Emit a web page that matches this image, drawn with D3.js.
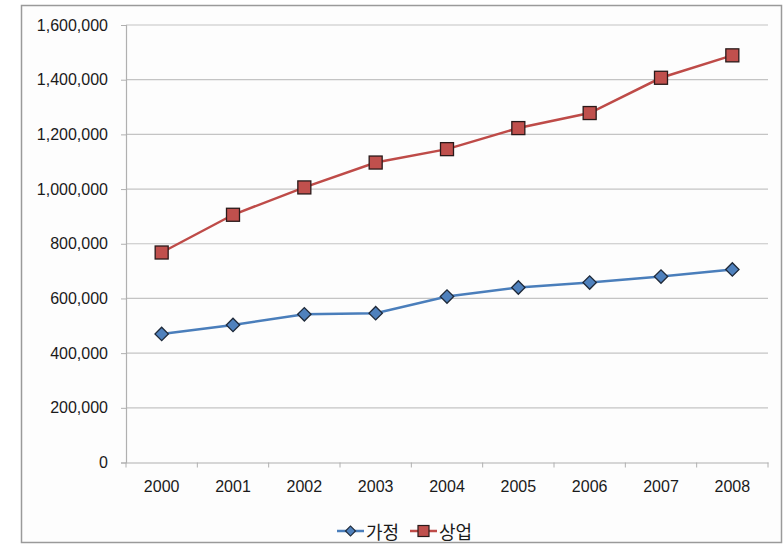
<!DOCTYPE html>
<html>
<head>
<meta charset="utf-8">
<script src="https://cdn.jsdelivr.net/npm/d3@7/dist/d3.min.js"></script>
<style>
  html, body { margin: 0; padding: 0; background: #ffffff; }
  svg { display: block; }
  text { font-family: "Liberation Sans", Arial, Helvetica, sans-serif; fill: #1a1a1a; }
  .legend text { font-family: "Noto Sans CJK KR", "Noto Sans", sans-serif; }
</style>
</head>
<body>
<svg id="chart" width="783" height="547"></svg>
<script>
// Yearly data
const years = ["2000", "2001", "2002", "2003", "2004", "2005", "2006", "2007", "2008"];
const household = [470000, 503000, 542000, 546000, 607000, 640000, 658000, 680000, 706000];
const commercial = [768000, 906000, 1006000, 1097000, 1146000, 1223000, 1278000, 1407000, 1489000];
const seriesNames = ["가정", "상업"];
const yTicks = [0, 200000, 400000, 600000, 800000, 1000000, 1200000, 1400000, 1600000];

const svg = d3.select("#chart");
const plot = { left: 126, right: 768, top: 25, bottom: 462.5 };

// Outer frame
svg.append("rect")
  .attr("x", 21.5).attr("y", 5.5)
  .attr("width", 760).attr("height", 537)
  .attr("fill", "#fdfdfd")
  .attr("stroke", "#9a9a9a").attr("stroke-width", 1.5);

const x = d3.scaleBand().domain(years).range([plot.left, plot.right]).padding(0);
const y = d3.scaleLinear().domain([0, 1600000]).range([plot.bottom, plot.top]);

// Horizontal gridlines
svg.append("g")
  .selectAll("line")
  .data(yTicks.filter(d => d > 0))
  .join("line")
  .attr("x1", plot.left).attr("x2", plot.right)
  .attr("y1", d => y(d)).attr("y2", d => y(d))
  .attr("stroke", "#c4c4c4").attr("stroke-width", 1.2);

// Y axis
const yAxis = svg.append("g")
  .attr("transform", `translate(${plot.left},0)`)
  .call(d3.axisLeft(y).tickValues(yTicks).tickFormat(d3.format(",")).tickSize(5).tickPadding(13));
yAxis.select(".domain").attr("stroke", "#b0b0b0").attr("stroke-width", 1.2);
yAxis.selectAll(".tick line").attr("stroke", "#b0b0b0");
yAxis.selectAll(".tick text")
  .attr("font-size", 16)
  .style("font-family", "'Liberation Sans', Arial, sans-serif")
  .attr("fill", "#1a1a1a");

// X axis with ticks at category boundaries
const xAxis = svg.append("g")
  .attr("transform", `translate(0,${plot.bottom})`)
  .call(d3.axisBottom(x).tickSize(0).tickPadding(18));
xAxis.select(".domain").attr("stroke", "#b0b0b0").attr("stroke-width", 1.2);
xAxis.selectAll(".tick text")
  .attr("font-size", 16)
  .style("font-family", "'Liberation Sans', Arial, sans-serif")
  .attr("fill", "#1a1a1a");
xAxis.selectAll("line.bound")
  .data(years.concat(["end"]))
  .join("line")
  .attr("class", "bound")
  .attr("x1", (d, i) => plot.left + i * x.step())
  .attr("x2", (d, i) => plot.left + i * x.step())
  .attr("y1", 0).attr("y2", 5)
  .attr("stroke", "#b0b0b0");

const cx = d => x(d) + x.bandwidth() / 2;
const line = d3.line().x((d, i) => cx(years[i])).y(d => y(d));

// Lines
svg.append("path").datum(household)
  .attr("d", line).attr("fill", "none")
  .attr("stroke", "#4a7ebb").attr("stroke-width", 2.5);
svg.append("path").datum(commercial)
  .attr("d", line).attr("fill", "none")
  .attr("stroke", "#be4b48").attr("stroke-width", 2.5);

// Markers
const diamond = d3.symbol().type(d3.symbolSquare).size(90);
svg.append("g").selectAll("path")
  .data(household)
  .join("path")
  .attr("d", diamond)
  .attr("transform", (d, i) => `translate(${cx(years[i])},${y(d)}) rotate(45)`)
  .attr("fill", "#4f81bd").attr("stroke", "#1f2a3a").attr("stroke-width", 1.3);

svg.append("g").selectAll("rect")
  .data(commercial)
  .join("rect")
  .attr("x", (d, i) => cx(years[i]) - 6.5)
  .attr("y", d => y(d) - 6.5)
  .attr("width", 13).attr("height", 13)
  .attr("fill", "#c0504d").attr("stroke", "#2a1a1a").attr("stroke-width", 1.3);

// Legend
const legend = svg.append("g").attr("class", "legend");
const legendItems = [
  { name: seriesNames[0], color: "#4a7ebb", fill: "#4f81bd", kind: "diamond", x0: 337 },
  { name: seriesNames[1], color: "#be4b48", fill: "#c0504d", kind: "square", x0: 410 }
];
const ly = 531;
legendItems.forEach(it => {
  const g = legend.append("g");
  g.append("line")
    .attr("x1", it.x0).attr("x2", it.x0 + 27)
    .attr("y1", ly).attr("y2", ly)
    .attr("stroke", it.color).attr("stroke-width", 2.5);
  if (it.kind === "diamond") {
    g.append("path")
      .attr("d", d3.symbol().type(d3.symbolSquare).size(50))
      .attr("transform", `translate(${it.x0 + 13.5},${ly}) rotate(45)`)
      .attr("fill", it.fill).attr("stroke", "#1f2a3a").attr("stroke-width", 1.2);
  } else {
    g.append("rect")
      .attr("x", it.x0 + 13.5 - 5.5).attr("y", ly - 5.5)
      .attr("width", 11).attr("height", 11)
      .attr("fill", it.fill).attr("stroke", "#2a1a1a").attr("stroke-width", 1.2);
  }
  g.append("text")
    .attr("x", it.x0 + 29).attr("y", ly)
    .attr("dominant-baseline", "central")
    .attr("font-size", 18)
    .text(it.name);
});
</script>
</body>
</html>
